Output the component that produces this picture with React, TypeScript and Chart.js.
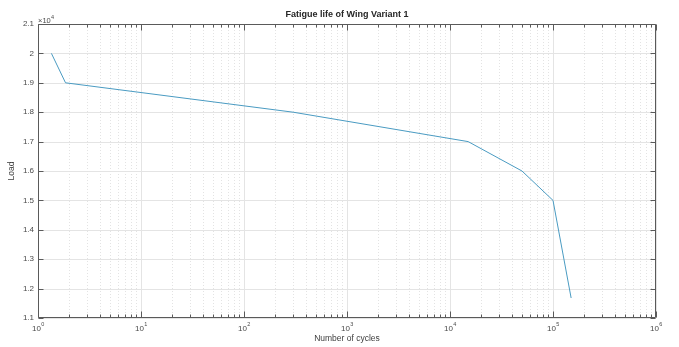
import React, { useEffect, useRef } from "react";
import { Chart, registerables } from "chart.js";

Chart.register(...registerables);

// ---- data ----
const cycles = [1.35, 1.85, 300, 15000, 50000, 100000, 150000];
const loads = [20000, 19000, 18000, 17000, 16000, 15000, 11680];

const xDecadeExponents = [0, 1, 2, 3, 4, 5, 6];
const yTickValues = [11000, 12000, 13000, 14000, 15000, 16000, 17000, 18000, 19000, 20000, 21000];
const yTickLabels = ["1.1", "1.2", "1.3", "1.4", "1.5", "1.6", "1.7", "1.8", "1.9", "2", "2.1"];

const titleText = "Fatigue life of Wing Variant 1";
const xTitle = "Number of cycles";
const yTitle = "Load";
const yExponentLabel = "4";

const FONT = '"Liberation Sans", Arial, Helvetica, sans-serif';

const matlabAxes = {
  id: "matlabAxes",
  beforeDatasetsDraw(chart: any) {
    const { ctx, chartArea } = chart;
    const xs = chart.scales.x;
    const ys = chart.scales.y;
    const { left, right, top, bottom } = chartArea;
    ctx.save();
    // horizontal grid
    ctx.strokeStyle = "#e4e4e4";
    ctx.lineWidth = 1;
    yTickValues.forEach((v) => {
      const y = Math.round(ys.getPixelForValue(v)) + 0.5;
      ctx.beginPath();
      ctx.moveTo(left, y);
      ctx.lineTo(right, y);
      ctx.stroke();
    });
    // minor vertical grid (dotted)
    ctx.strokeStyle = "#e3e3e3";
    ctx.setLineDash([1, 2]);
    for (let n = 0; n < 6; n++) {
      for (let k = 2; k <= 9; k++) {
        const x = Math.round(xs.getPixelForValue(k * Math.pow(10, n))) + 0.5;
        ctx.beginPath();
        ctx.moveTo(x, top);
        ctx.lineTo(x, bottom);
        ctx.stroke();
      }
    }
    // major vertical grid
    ctx.setLineDash([]);
    ctx.strokeStyle = "#e4e4e4";
    xDecadeExponents.forEach((e) => {
      const x = Math.round(xs.getPixelForValue(Math.pow(10, e))) + 0.5;
      ctx.beginPath();
      ctx.moveTo(x, top);
      ctx.lineTo(x, bottom);
      ctx.stroke();
    });
    ctx.restore();
  },
  afterDatasetsDraw(chart: any) {
    const { ctx, chartArea } = chart;
    const xs = chart.scales.x;
    const ys = chart.scales.y;
    const { left, right, top, bottom } = chartArea;
    const L = Math.round(left) + 0.5;
    const R = Math.round(right) - 0.5;
    const T = Math.round(top) + 0.5;
    const B = Math.round(bottom) - 0.5;
    ctx.save();
    ctx.strokeStyle = "#5a5a5a";
    ctx.lineWidth = 1;
    ctx.beginPath();
    ctx.rect(L, T, R - L, B - T);
    ctx.stroke();

    // x ticks (inward, top and bottom)
    const tick = (x: number, len: number) => {
      ctx.beginPath();
      ctx.moveTo(x, B);
      ctx.lineTo(x, B - len);
      ctx.moveTo(x, T);
      ctx.lineTo(x, T + len);
      ctx.stroke();
    };
    for (let n = 0; n < 6; n++) {
      for (let k = 2; k <= 9; k++) {
        tick(Math.round(xs.getPixelForValue(k * Math.pow(10, n))) + 0.5, 3);
      }
    }
    xDecadeExponents.forEach((e) => {
      tick(Math.round(xs.getPixelForValue(Math.pow(10, e))) + 0.5, 6);
    });
    // y ticks (inward, left and right)
    yTickValues.forEach((v) => {
      const y = Math.round(ys.getPixelForValue(v)) + 0.5;
      ctx.beginPath();
      ctx.moveTo(L, y);
      ctx.lineTo(L + 5, y);
      ctx.moveTo(R, y);
      ctx.lineTo(R - 5, y);
      ctx.stroke();
    });

    // y tick labels
    ctx.fillStyle = "#4a4a4a";
    ctx.font = `8px ${FONT}`;
    ctx.textAlign = "right";
    ctx.textBaseline = "middle";
    yTickValues.forEach((v, i) => {
      ctx.fillText(yTickLabels[i], left - 4, ys.getPixelForValue(v));
    });

    // x tick labels 10^n
    xDecadeExponents.forEach((e) => {
      const x = xs.getPixelForValue(Math.pow(10, e));
      ctx.font = `8px ${FONT}`;
      const baseW = ctx.measureText("10").width;
      ctx.font = `5.5px ${FONT}`;
      const expW = ctx.measureText(String(e)).width;
      const x0 = x - (baseW + expW) / 2;
      ctx.textAlign = "left";
      ctx.textBaseline = "middle";
      ctx.font = `8px ${FONT}`;
      ctx.fillText("10", x0, bottom + 11);
      ctx.font = `5.5px ${FONT}`;
      ctx.fillText(String(e), x0 + baseW + 0.3, bottom + 6.5);
    });

    // exponent label x10^4
    ctx.textAlign = "left";
    ctx.textBaseline = "middle";
    ctx.font = `7.5px ${FONT}`;
    const mult = "\u00d710";
    ctx.fillText(mult, left, top - 3);
    const mw = ctx.measureText(mult).width;
    ctx.font = `5.5px ${FONT}`;
    ctx.fillText(yExponentLabel, left + mw + 0.3, top - 7);

    // axis titles
    ctx.fillStyle = "#404040";
    ctx.font = `8.5px ${FONT}`;
    ctx.textAlign = "center";
    ctx.textBaseline = "middle";
    ctx.fillText(xTitle, (left + right) / 2, bottom + 21);
    ctx.save();
    ctx.translate(12, (top + bottom) / 2);
    ctx.rotate(-Math.PI / 2);
    ctx.fillText(yTitle, 0, 0);
    ctx.restore();

    // chart title
    ctx.fillStyle = "#262626";
    ctx.font = `bold 9px ${FONT}`;
    ctx.fillText(titleText, (left + right) / 2, 15);
    ctx.restore();
  },
};

export default function App() {
  const canvasRef = useRef<HTMLCanvasElement | null>(null);

  useEffect(() => {
    if (!canvasRef.current) return;
    const chart = new Chart(canvasRef.current, {
      type: "line",
      data: {
        datasets: [
          {
            label: "Load",
            data: cycles.map((c, i) => ({ x: c, y: loads[i] })),
            borderColor: "#4a9bc2",
            borderWidth: 1,
            pointRadius: 0,
            tension: 0,
            fill: false,
          },
        ],
      },
      options: {
        responsive: false,
        animation: false,
        devicePixelRatio: 1,
        layout: { padding: { left: 38, right: 23, top: 24, bottom: 29 } },
        plugins: {
          legend: { display: false },
          title: { display: false },
          tooltip: { enabled: false },
        },
        scales: {
          x: { type: "logarithmic", min: 1, max: 1000000, display: false },
          y: { type: "linear", min: 11000, max: 21000, display: false },
        },
      },
      plugins: [matlabAxes],
    });
    return () => chart.destroy();
  }, []);

  return (
    <div style={{ position: "absolute", left: 0, top: 0, width: 679, height: 347, background: "#fff" }}>
      <canvas ref={canvasRef} width={679} height={347} style={{ display: "block" }} />
    </div>
  );
}
